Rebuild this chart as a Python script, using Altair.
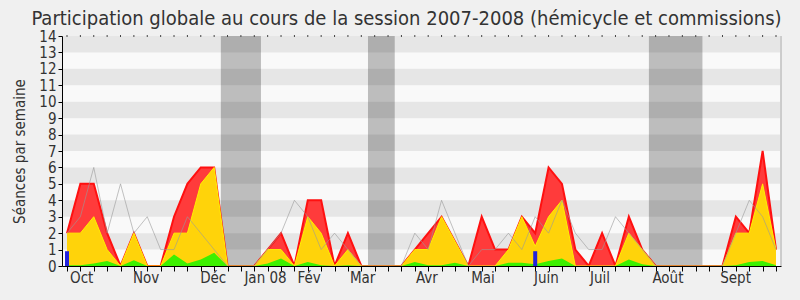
import altair as alt
import pandas as pd

# ---- data (weekly, week index 0..53) ----
weeks = list(range(54))
presence = [2, 5, 5, 2, 0, 2, 0, 0, 3, 5, 6, 6, 0, 0, 0, 1, 2, 0, 4, 4,
            0, 2, 0, 0, 0, 0, 1, 2, 3, 1.5, 0, 3, 1, 1, 3, 2, 6, 5, 1, 0,
            2, 0, 3, 1, 0, 0, 0, 0, 0, 0, 3, 2, 7, 1]
interventions = [2, 2, 3, 1, 0, 2, 0, 0, 2, 2, 5, 6, 0, 0, 0, 1, 1, 0, 3, 2,
                 0, 1, 0, 0, 0, 0, 1, 1, 3, 1.5, 0, 0, 0, 1, 3, 1.2, 3, 4, 0, 0,
                 0, 0, 2, 1, 0, 0, 0, 0, 0, 0, 2, 2, 5, 1]
questions = [0.05, 0.05, 0.15, 0.3, 0, 0.35, 0, 0, 0.7, 0.15, 0.4, 0.8, 0, 0, 0, 0.15, 0.45, 0, 0.25, 0.05,
             0, 0.05, 0, 0, 0, 0, 0.25, 0.05, 0.05, 0.2, 0, 0, 0, 0.2, 0.2, 0.1, 0.3, 0.45, 0, 0,
             0, 0, 0.4, 0.1, 0, 0, 0, 0, 0, 0, 0.05, 0.25, 0.3, 0.05]
mediane = [2, 3, 6, 2, 5, 2, 3, 1, 1, 3, 2, 1, 0, 0, 0, 1, 2, 4, 3, 1,
           2, 1, 0, 0, 0, 0, 2, 1, 4, 2, 0, 1, 1, 2, 1, 3, 2, 4, 2, 1,
           1, 3, 2, 1, 0, 0, 0, 0, 0, 0, 2, 4, 3, 1]
rapports_week = [0, 35]
rapports_val = [0.9, 0.9]

vacances_debut = [11.5, 22.5, 43.5]
vacances_fin = [14.5, 24.5, 47.5]

mois = ["Oct", "Nov", "Déc", "Jan 08", "Fév", "Mar", "Avr", "Mai", "Juin", "Juil", "Août", "Sept"]
mois_pos = [1.1, 5.92, 10.93, 14.84, 18.1, 22.1, 26.9, 31.1, 35.84, 39.85, 44.92, 49.98]

stripe_lo = [1, 3, 5, 7, 9, 11, 13]
stripe_hi = [v + 1 for v in stripe_lo]

FONT = "DejaVu Sans Condensed"
W, H = 719, 230

df = pd.DataFrame({"week": weeks, "presence": presence, "interventions": interventions,
                   "questions": questions, "mediane": mediane})
df_rap = pd.DataFrame({"week": rapports_week, "val": rapports_val})
df_vac = pd.DataFrame({"a": vacances_debut, "b": vacances_fin})
df_mois = pd.DataFrame({"mois": mois, "pos": mois_pos})
df_str = pd.DataFrame({"lo": stripe_lo, "hi": stripe_hi})
df_wk = pd.DataFrame({"week": weeks})

xs = alt.Scale(domain=[0, 53], nice=False, zero=False)
ys = alt.Scale(domain=[0, 14], nice=False)
xaxis = alt.Axis(values=weeks, labels=False, tickSize=5, tickColor="#000", domainColor="#000",
                 grid=False, title=None)
yaxis = alt.Axis(values=list(range(15)), tickSize=4, tickColor="#000", domainColor="#000",
                 labelFontSize=15, labelFont=FONT, labelColor="#333", labelPadding=2,
                 grid=False, title="Séances par semaine", titleFont=FONT, titleFontSize=15,
                 titleFontWeight="normal", titleColor="#333", titlePadding=11)


def X(field):
    return alt.X(field, type="quantitative", scale=xs, axis=xaxis)


def Y(field):
    return alt.Y(field, type="quantitative", scale=ys, axis=yaxis)


base = alt.Chart(df)

vac = alt.Chart(df_vac).mark_rect(color="#BDBDBD").encode(
    x=X("a"), x2="b", y=alt.value(0), y2=alt.value(H))

stripes = alt.Chart(df_str).mark_rect(color="#000000", opacity=0.076).encode(
    y=Y("lo"), y2="hi", x=alt.value(0), x2=alt.value(W))

top_dots = alt.Chart(df_wk).mark_rule(color="#444", strokeWidth=1).encode(
    x=X("week"), y=alt.value(-1), y2=alt.value(1))

red_area = base.mark_area(color="#FF3B3B", clip=True).encode(x=X("week"), y=Y("presence"))
red_line = base.mark_line(color="#FF1010", strokeWidth=2, clip=True).encode(x=X("week"), y=Y("presence"))
yel_area = base.mark_area(color="#FFD30A", clip=True).encode(x=X("week"), y=Y("interventions"))
yel_line = base.mark_line(color="#FFF000", strokeWidth=1, clip=True).encode(x=X("week"), y=Y("interventions"))
green_area = base.mark_area(color="#3CF000", clip=True).encode(x=X("week"), y=Y("questions"))
grey_line = base.mark_line(color="#9A9A9A", strokeWidth=1, opacity=0.6, clip=True).encode(
    x=X("week"), y=Y("mediane"))
blue = alt.Chart(df_rap).mark_bar(color="#2222DD", width=4, clip=True).encode(x=X("week"), y=Y("val"))
right_edge = alt.Chart(df_mois).mark_rule(color="#CCCCCC").encode(
    x=alt.value(W), y=alt.value(0), y2=alt.value(H))
labels = alt.Chart(df_mois).mark_text(font=FONT, fontSize=15, color="#333", baseline="alphabetic").encode(
    x=X("pos"), y=alt.value(H + 17), text="mois:N")

chart = alt.layer(vac, stripes, top_dots, red_area, red_line, yel_area, yel_line, green_area, grey_line,
                  blue, right_edge, labels).properties(
    width=W, height=H,
    title=alt.TitleParams("Participation globale au cours de la session 2007-2008 (hémicycle et commissions)",
                          font=FONT, fontSize=20, fontWeight="normal", color="#333",
                          anchor="middle", dx=-15, offset=0),
    padding={"left": 62, "top": 36, "right": 19, "bottom": 34},
    autosize=alt.AutoSizeParams(type="none"),
    background="#F0F0F0",
).configure_view(fill="#F9F9F9", stroke=None)

chart.save("out.html", embed_options={"renderer": "svg", "actions": False})
